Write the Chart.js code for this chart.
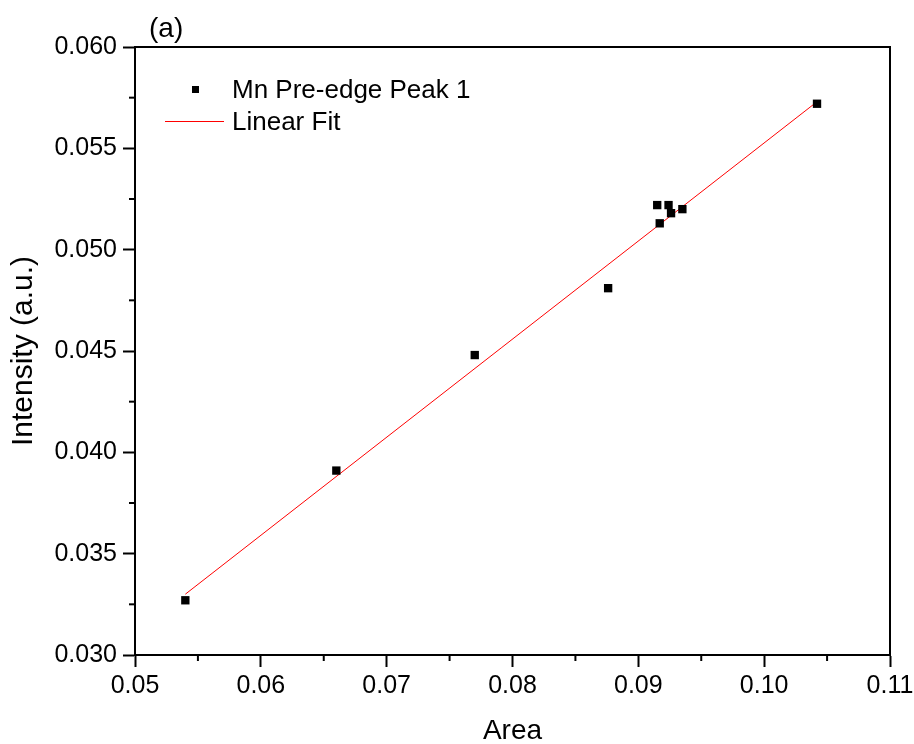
<!DOCTYPE html>
<html>
<head>
<meta charset="utf-8">
<script src="https://cdn.jsdelivr.net/npm/chart.js@4/dist/chart.umd.min.js"></script>
<style>
  body { margin: 0; background: #fff; }
</style>
</head>
<body>
<canvas id="chart" width="914" height="744"></canvas>
<script>
// data
const areaValues = [0.0540, 0.0660, 0.0770, 0.0876, 0.0915, 0.0917, 0.0924, 0.0926, 0.0935, 0.1042];
const intensityValues = [0.0327, 0.0391, 0.0448, 0.0481, 0.0522, 0.0513, 0.0522, 0.0518, 0.0520, 0.0572];
const fitX = [0.0540, 0.1042];
const fitY = [0.0330, 0.0573];
const xTicks = [0.05, 0.06, 0.07, 0.08, 0.09, 0.10, 0.11];
const yTicks = [0.030, 0.035, 0.040, 0.045, 0.050, 0.055, 0.060];

const FONT = 'Arial, "Liberation Sans", sans-serif';

// frame, minor ticks, panel letter and legend
const extras = {
  id: 'extras',
  afterDraw(chart) {
    const ctx = chart.ctx;
    const a = chart.chartArea;
    const xs = chart.scales.x, ys = chart.scales.y;
    ctx.save();
    ctx.strokeStyle = '#000';
    ctx.lineWidth = 2;
    ctx.strokeRect(a.left, a.top, a.right - a.left, a.bottom - a.top);

    for (let i = 0; i < xTicks.length - 1; i++) {
      const px = xs.getPixelForValue((xTicks[i] + xTicks[i + 1]) / 2);
      ctx.beginPath();
      ctx.moveTo(px, a.bottom);
      ctx.lineTo(px, a.bottom + 6);
      ctx.stroke();
    }
    for (let i = 0; i < yTicks.length - 1; i++) {
      const py = ys.getPixelForValue((yTicks[i] + yTicks[i + 1]) / 2);
      ctx.beginPath();
      ctx.moveTo(a.left, py);
      ctx.lineTo(a.left - 6, py);
      ctx.stroke();
    }

    ctx.fillStyle = '#000';
    ctx.textBaseline = 'alphabetic';
    ctx.textAlign = 'left';
    ctx.font = '28px ' + FONT;
    ctx.fillText('(a)', 149, 37);

    // legend
    const ds = chart.data.datasets;
    ctx.font = '26px ' + FONT;
    ctx.fillRect(192, 86, 7, 7);
    ctx.fillText(ds[0].label, 232, 98);
    ctx.strokeStyle = ds[1].borderColor;
    ctx.lineWidth = 1;
    ctx.beginPath();
    ctx.moveTo(165, 121.5);
    ctx.lineTo(224, 121.5);
    ctx.stroke();
    ctx.fillText(ds[1].label, 232, 130);
    ctx.restore();
  }
};

new Chart(document.getElementById('chart'), {
  type: 'scatter',
  data: {
    datasets: [{
      label: 'Mn Pre-edge Peak 1',
      data: areaValues.map((x, i) => ({ x: x, y: intensityValues[i] })),
      pointStyle: 'rect',
      pointRadius: 5.9,
      pointHoverRadius: 5.9,
      backgroundColor: '#000',
      borderColor: '#000',
      borderWidth: 0
    }, {
      label: 'Linear Fit',
      type: 'line',
      data: fitX.map((x, i) => ({ x: x, y: fitY[i] })),
      borderColor: '#ff0000',
      borderWidth: 1,
      pointRadius: 0,
      fill: false
    }]
  },
  options: {
    responsive: false,
    animation: false,
    layout: { padding: { top: 47, right: 24, left: 0, bottom: 0 } },
    plugins: {
      legend: { display: false },
      tooltip: { enabled: false }
    },
    scales: {
      x: {
        type: 'linear',
        min: 0.05,
        max: 0.11,
        afterFit: s => { s.height = 89; s.paddingRight = 0; },
        afterBuildTicks: s => { s.ticks = xTicks.map(v => ({ value: v })); },
        grid: { drawOnChartArea: false, drawTicks: true, tickLength: 12, tickColor: '#000', tickWidth: 2 },
        border: { display: true, color: '#000', width: 2 },
        ticks: {
          color: '#000',
          font: { family: FONT, size: 25 },
          padding: 4,
          maxRotation: 0,
          callback: v => v.toFixed(2)
        },
        title: {
          display: true,
          text: 'Area',
          color: '#000',
          font: { family: FONT, size: 28, lineHeight: 1 },
          padding: { top: 0, bottom: -1 }
        }
      },
      y: {
        type: 'linear',
        min: 0.030,
        max: 0.060,
        afterFit: s => { s.width = 135; },
        afterBuildTicks: s => { s.ticks = yTicks.map(v => ({ value: v })); },
        grid: { drawOnChartArea: false, drawTicks: true, tickLength: 12, tickColor: '#000', tickWidth: 2 },
        border: { display: true, color: '#000', width: 2 },
        ticks: {
          color: '#000',
          font: { family: FONT, size: 25 },
          padding: 6,
          callback: v => v.toFixed(3)
        },
        title: {
          display: true,
          text: 'Intensity (a.u.)',
          color: '#000',
          font: { family: FONT, size: 30, lineHeight: 1 },
          padding: { top: 9, bottom: 0 }
        }
      }
    }
  },
  plugins: [extras]
});
</script>
</body>
</html>
